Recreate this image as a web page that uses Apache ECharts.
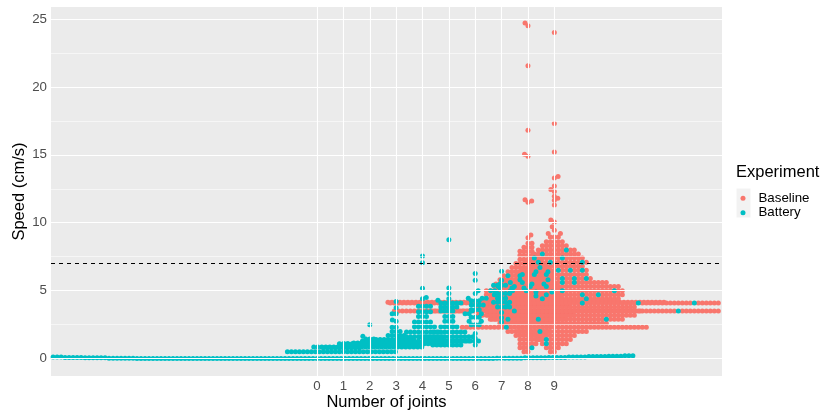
<!DOCTYPE html>
<html><head><meta charset="utf-8">
<script src="https://cdn.jsdelivr.net/npm/echarts@6/dist/echarts.min.js"></script>
<style>html,body{margin:0;padding:0;background:#fff}#c{width:831px;height:412px}</style>
</head><body><div id="c"></div>
<script>
// ---------- data ----------
const jointTicks = [0, 1, 2, 3, 4, 5, 6, 7, 8, 9];
const speedTicks = [0, 5, 10, 15, 20, 25];
const speedMinorTicks = [2.5, 7.5, 12.5, 17.5, 22.5];
const thresholdSpeed = 7;
const experiments = ['Baseline', 'Battery'];

// frequency tables per group: [speed (cm/s), number of observations]
const battery0 = [[0.0, 90], [0.03, 14], [0.06, 12], [0.09, 10], [0.12, 10], [0.15, 10], [0.18, 8], [0.21, 6]];
const battery1 = [[0.5, 28], [0.8, 10], [1.1, 3]];
const battery2 = [[0.85, 28], [1.15, 8], [1.45, 3], [1.65, 1], [2.5, 1]];
const battery3 = [[1.1, 26], [1.4, 10], [1.7, 5], [2.0, 3], [2.3, 2], [2.75, 1], [2.85, 1], [3.3, 2], [3.75, 1], [4.2, 1]];
const battery4 = [[1.3, 30], [1.6, 12], [1.95, 9], [2.35, 6], [2.7, 5], [3.1, 3], [3.45, 4], [3.85, 4], [4.4, 1], [4.5, 1], [5.18, 1], [7.05, 1], [7.55, 1]];
const battery5 = [[1.0, 8], [1.3, 12], [1.6, 14], [1.95, 9], [2.35, 5], [2.75, 3], [3.1, 3], [3.5, 4], [3.8, 5], [4.1, 6], [4.3, 1], [4.4, 1], [4.8, 1], [5.2, 1], [8.75, 1]];
const battery6 = [[1.0, 1], [1.5, 1], [1.84, 1], [2.5, 3], [2.75, 2], [3.05, 3], [3.3, 3], [3.6, 3], [3.95, 4], [4.25, 3], [4.45, 3], [4.8, 1], [5.0, 1], [5.77, 1], [6.26, 1]];
const battery7 = [[2.7, 1], [3.0, 1], [3.4, 1], [3.8, 4], [4.15, 5], [4.45, 3], [4.8, 4], [5.0, 3], [5.4, 4], [5.77, 1], [6.43, 1]];
const battery8 = [[0.8, 1], [2.0, 1], [2.9, 1], [3.5, 1], [3.85, 1], [4.6, 2], [4.9, 2], [5.2, 3], [5.5, 3], [5.8, 2], [6.1, 2], [6.4, 2], [6.7, 1]];
const battery9 = [[1.1, 1], [1.4, 1], [2.3, 1], [2.9, 2], [3.5, 2], [4.1, 3], [4.4, 3], [4.7, 4], [5.0, 4], [5.3, 4], [5.6, 4], [5.9, 3], [6.2, 3], [6.5, 3], [7.1, 3], [7.4, 2], [7.7, 1], [8.0, 1]];

const baseline8 = [[24.7, 1], [24.5, 1], [21.55, 1], [16.8, 1], [15.05, 1], [14.9, 1], [11.7, 1], [11.6, 1], [11.5, 1], [9.1, 1], [8.9, 1],
  [8.5, 2], [8.2, 3], [7.9, 4], [7.6, 5], [7.3, 6], [7.0, 8], [6.7, 9], [6.4, 10], [6.1, 11], [5.8, 12], [5.5, 13], [5.2, 14], [4.9, 15], [4.6, 16],
  [4.15, 70], [3.85, 20], [3.5, 55], [3.2, 22], [2.9, 18], [2.6, 14], [2.0, 10], [1.7, 8], [1.4, 6], [1.1, 5], [0.8, 3], [0.5, 2]];
const baseline9 = [[24.0, 1], [17.3, 1], [15.2, 1], [13.4, 1], [13.3, 1], [12.7, 1], [12.45, 1], [12.3, 1], [11.95, 1], [11.8, 1], [11.65, 1], [11.3, 1], [10.2, 1], [10.05, 1], [9.7, 1], [9.45, 1], [9.2, 2], [8.95, 3],
  [8.6, 5], [8.3, 7], [8.0, 9], [7.7, 11], [7.4, 12], [7.1, 13], [6.8, 14], [6.5, 14], [6.2, 15], [5.9, 16], [5.6, 22], [5.3, 28], [5.0, 31], [4.7, 31], [4.4, 30],
  [4.1, 80], [3.8, 40], [3.5, 80], [3.2, 40], [2.9, 32], [2.6, 26], [2.3, 46], [2.0, 18], [1.7, 12], [1.4, 8], [1.1, 6], [0.8, 4], [0.5, 2]];

const baselineGroups = [[], [], [], [], [], [], [], [], baseline8, baseline9];
const batteryGroups = [battery0, battery1, battery2, battery3, battery4, battery5, battery6, battery7, battery8, battery9];

// ---------- chart ----------
const COLORS = ['#F8766D', '#00BFC4'];
const FONT = '"Liberation Sans", Arial, Helvetica, sans-serif';
const chart = echarts.init(document.getElementById('c'), null, { renderer: 'canvas' });

const gridLines = [];
jointTicks.forEach(v => gridLines.push({ xAxis: v, lineStyle: { color: '#fff', width: 1.1, type: 'solid' } }));
speedTicks.forEach(v => gridLines.push({ yAxis: v, lineStyle: { color: '#fff', width: 1.1, type: 'solid' } }));
speedMinorTicks.forEach(v => gridLines.push({ yAxis: v, lineStyle: { color: '#fff', width: 0.55, type: 'solid' } }));

const option = {
  animation: false,
  backgroundColor: '#fff',
  textStyle: { fontFamily: FONT },
  grid: { left: 51, right: 109, top: 7, bottom: 36, show: true, backgroundColor: '#EBEBEB', borderWidth: 0, containLabel: false, outerBoundsMode: 'none' },
  title: { text: 'Experiment', left: 736, top: 164, padding: 0, textStyle: { fontFamily: FONT, fontSize: 16.5, fontWeight: 'normal', color: '#000' } },
  legend: {
    data: experiments, orient: 'vertical', left: 740.5, top: 191, itemWidth: 5, itemHeight: 5, itemGap: 0, padding: 0,
    icon: 'circle', textStyle: { fontFamily: FONT, fontSize: 13.3, color: '#000', lineHeight: 14.5, padding: [0, 0, 0, 8] }
  },
  graphic: [
    { type: 'rect', shape: { x: 736.5, y: 188.5, width: 14, height: 14.5 }, style: { fill: '#F2F2F2' }, z: 0 },
    { type: 'rect', shape: { x: 736.5, y: 203, width: 14, height: 14.5 }, style: { fill: '#F2F2F2' }, z: 0 }
  ],
  xAxis: {
    type: 'value', min: -10.09, max: 15.36,
    name: 'Number of joints', nameLocation: 'middle', nameGap: 17.5, nameMoveOverlap: false,
    nameTextStyle: { fontFamily: FONT, fontSize: 16.5, color: '#000', verticalAlign: 'top' },
    axisLine: { show: false },
    axisTick: { show: true, length: 3, lineStyle: { color: '#333', width: 1 }, customValues: jointTicks },
    axisLabel: { customValues: jointTicks, color: '#4D4D4D', fontSize: 13.3, margin: 4, fontFamily: FONT },
    splitLine: { show: false }
  },
  yAxis: {
    type: 'value', min: -1.28, max: 25.88,
    name: 'Speed (cm/s)', nameLocation: 'middle', nameGap: 23, nameMoveOverlap: false,
    nameTextStyle: { fontFamily: FONT, fontSize: 16.5, color: '#000' },
    axisLine: { show: false },
    axisTick: { show: true, length: 3, lineStyle: { color: '#333', width: 1 }, customValues: speedTicks },
    axisLabel: { customValues: speedTicks, color: '#4D4D4D', fontSize: 13.3, margin: 4, fontFamily: FONT },
    splitLine: { show: false }
  },
  series: [
    { type: 'line', data: [], z: 1, silent: true, markLine: { silent: true, symbol: 'none', label: { show: false }, animation: false, data: gridLines } },
    { name: 'Baseline', type: 'scatter', data: [], symbolSize: 5, itemStyle: { color: COLORS[0], opacity: 1 }, z: 3 },
    { name: 'Battery', type: 'scatter', data: [], symbolSize: 5, itemStyle: { color: COLORS[1], opacity: 1 }, z: 4 },
    { type: 'line', data: [], z: 5, silent: true, markLine: { silent: true, symbol: 'none', label: { show: false }, animation: false,
      data: [{ yAxis: thresholdSpeed, lineStyle: { color: '#000', width: 1, type: [4, 4] } }] } }
  ]
};
chart.setOption(option);

// scale factors from the library's own axes
const p0 = chart.convertToPixel({ gridIndex: 0 }, [0, 0]);
const p1 = chart.convertToPixel({ gridIndex: 0 }, [1, 1]);
const pxPerX = p1[0] - p0[0];
const pxPerY = p0[1] - p1[1];

// beeswarm ("swarm") layout in pixel space, per joint group (both experiments together)
const D = 4;
function swarmGroup(points) {
  points.sort((a, b) => a.s - b.s || a.key - b.key || a.e - b.e);
  const placed = [];
  let lo = 0;
  points.forEach((p, i) => {
    const y = p.s * pxPerY;
    while (lo < placed.length && y - placed[lo].y >= D) lo++;
    const iv = [];
    for (let k = lo; k < placed.length; k++) {
      const dy = y - placed[k].y;
      const w = Math.sqrt(D * D - dy * dy);
      iv.push([placed[k].x - w, placed[k].x + w]);
    }
    const cands = [0];
    iv.forEach(v => cands.push(v[0], v[1]));
    cands.sort((a, b) => (Math.abs(a) - Math.abs(b)) || (i % 2 ? a - b : b - a));
    let best = 0;
    for (const c of cands) {
      let ok = true;
      for (const v of iv) { if (c > v[0] + 1e-7 && c < v[1] - 1e-7) { ok = false; break; } }
      if (ok) { best = c; break; }
    }
    placed.push({ x: best, y });
    p.off = best;
  });
  return points;
}

const seriesData = [[], []];
jointTicks.forEach(j => {
  const pts = [];
  [baselineGroups[j], batteryGroups[j]].forEach((rows, e) => {
    rows.forEach(([s, n]) => { for (let k = 0; k < n; k++) pts.push({ s, e, key: (k + 0.5) / n }); });
  });
  swarmGroup(pts).forEach(p => seriesData[p.e].push([j + p.off / pxPerX, p.s]));
});

chart.setOption({ series: [{}, { data: seriesData[0] }, { data: seriesData[1] }, {}] });
</script></body></html>
